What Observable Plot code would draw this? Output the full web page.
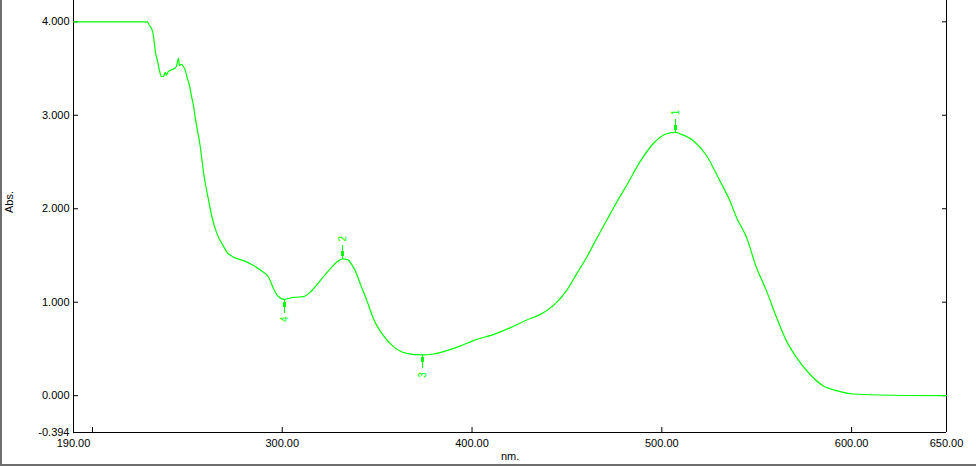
<!DOCTYPE html>
<html>
<head>
<meta charset="utf-8">
<script src="https://cdn.jsdelivr.net/npm/d3@7"></script>
<script src="https://cdn.jsdelivr.net/npm/@observablehq/plot@0.6"></script>
<style>
  html, body { margin: 0; padding: 0; background: #fff; }
  #wrap { position: relative; width: 976px; height: 466px; overflow: hidden; }
  #wrap svg { display: block; }
  #border { position: absolute; left: 0; top: 0; width: 974px; height: 464px;
            border-left: 2px solid #6e6e6e; border-bottom: 2px solid #6e6e6e; pointer-events: none; }
  .lbl { position: absolute; font-family: "Liberation Sans", Arial, sans-serif; font-size: 11px; color: #000; }
</style>
</head>
<body>
<div id="wrap">
  <div id="chart"></div>
  <div id="border"></div>
</div>
<script>
// Spectrum (wavelength nm, absorbance)
const wavelength = [190, 228.9, 230.0, 231.1, 232.1, 232.6, 233.2, 234.2, 235.3, 236.3, 237.4, 238.4, 238.9, 240.0,
  241.1, 242.1, 243.2, 244.2, 245.3, 245.8, 246.8, 247.9, 248.9, 250.0, 251.1, 252.1, 253.2, 254.2, 255.3, 256.3,
  258.9, 261.2, 263.0, 265.6, 268.3, 270.9, 274.4, 279.6, 284.9, 289.3, 292.8, 295.1, 297.5, 301.1, 305.9, 311.2,
  314.7, 320.0, 325.3, 328.4, 331.9, 334.4, 336.3, 338.4, 341.1, 344.6, 348.1, 353.3, 358.6, 365.6, 373.8, 379.6,
  386.7, 393.3, 400.7, 413.0, 420.0, 428.8, 435.8, 442.8, 449.8, 455.1, 460.4, 465.6, 470.9, 476.2, 481.4, 488.4,
  495.4, 502.5, 507.4, 509.5, 516.5, 523.5, 530.5, 535.8, 539.3, 544.6, 549.8, 555.1, 560.4, 565.6, 570.9, 577.9,
  584.9, 591.9, 600.7, 614.7, 650];
const absorbance = [4.000, 4.000, 3.961, 3.929, 3.854, 3.769, 3.672, 3.587, 3.480, 3.415, 3.415, 3.458, 3.426, 3.469,
  3.480, 3.490, 3.501, 3.522, 3.608, 3.533, 3.544, 3.522, 3.480, 3.394, 3.319, 3.212, 3.105, 2.966, 2.837, 2.730,
  2.337, 2.088, 1.909, 1.731, 1.624, 1.534, 1.481, 1.445, 1.392, 1.331, 1.267, 1.160, 1.071, 1.031, 1.052, 1.060,
  1.106, 1.231, 1.357, 1.424, 1.464, 1.456, 1.413, 1.338, 1.196, 1.017, 0.821, 0.642, 0.525, 0.453, 0.436, 0.446,
  0.482, 0.528, 0.589, 0.667, 0.725, 0.810, 0.867, 0.964, 1.124, 1.303, 1.481, 1.678, 1.874, 2.070, 2.248, 2.498,
  2.695, 2.802, 2.816, 2.802, 2.730, 2.570, 2.302, 2.088, 1.909, 1.695, 1.374, 1.124, 0.839, 0.589, 0.410, 0.232,
  0.107, 0.054, 0.018, 0.007, 0.000];

// Peak / valley picks
const pickNm = [507.4, 331.9, 373.8, 301.1];
const pickAbs = [2.816, 1.464, 0.436, 1.031];
const pickLabel = ["1", "2", "3", "4"];
const pickIsPeak = [true, true, false, false];

// Axis
const xDomain = [190, 650];
const yDomain = [-0.394, 4.228];
const xTicks = [200, 300, 400, 500, 600];
const xTickLabels = [190, 300, 400, 500, 600, 650];
const yTicks = [0, 1, 2, 3, 4];
const yTickLabels = [-0.394, 0, 1, 2, 3, 4];

const spectrum = wavelength.map((w, i) => ({nm: w, abs: absorbance[i]}));
const picks = pickNm.map((w, i) => ({nm: w, abs: pickAbs[i], label: pickLabel[i], peak: pickIsPeak[i]}));

const green = "#00ff00";
const markerShape = {
  draw(context, l) {
    context.moveTo(0, 0);
    context.lineTo(0, -l);
    context.rect(-1, -7, 2, 4);
  }
};

const chart = Plot.plot({
  width: 976,
  height: 466,
  marginLeft: 73,
  marginRight: 30,
  marginTop: 0,
  marginBottom: 34,
  style: {fontFamily: "'Liberation Sans', Arial, sans-serif", fontSize: "11px", color: "#000", background: "#fff"},
  x: {domain: xDomain},
  y: {domain: yDomain},
  marks: [
    Plot.ruleY([yDomain[0]], {stroke: "#000"}),
    Plot.ruleX([xDomain[0]], {stroke: "#000"}),
    Plot.ruleX([xDomain[1]], {stroke: "#000"}),
    Plot.axisX({ticks: xTicks, tickSize: -5, tickFormat: () => "", label: null}),
    Plot.axisX({ticks: xTickLabels, tickSize: 0, tickPadding: 7, tickFormat: d => d.toFixed(2), label: null}),
    Plot.axisY({ticks: yTicks, tickSize: -5, tickFormat: () => "", label: null}),
    Plot.axisY({anchor: "right", ticks: yTicks, tickSize: -5, tickFormat: () => "", label: null}),
    Plot.axisY({ticks: yTickLabels, tickSize: 0, tickPadding: 4, tickFormat: d => d.toFixed(3), label: null}),
    Plot.line(spectrum, {x: "nm", y: "abs", stroke: green, strokeWidth: 1.2, curve: "monotone-x"}),
    Plot.vector(picks, {x: "nm", y: "abs", length: 13, rotate: d => d.peak ? 0 : 180, anchor: "start",
      shape: markerShape, stroke: green, strokeWidth: 1, shapeRendering: "crispEdges"}),
    Plot.text(picks.filter(d => d.peak), {x: "nm", y: "abs", text: "label", dy: -20, rotate: -90, fill: green, fontSize: 10}),
    Plot.text(picks.filter(d => !d.peak), {x: "nm", y: "abs", text: "label", dy: 20, rotate: -90, fill: green, fontSize: 10})
  ]
});
document.getElementById("chart").appendChild(chart);

const wrap = document.getElementById("wrap");
const yl = document.createElement("div");
yl.className = "lbl";
yl.textContent = "Abs.";
yl.style.left = "-2px";
yl.style.top = "196px";
yl.style.transform = "rotate(-90deg)";
wrap.appendChild(yl);
const xl = document.createElement("div");
xl.className = "lbl";
xl.textContent = "nm.";
xl.style.left = "501px";
xl.style.top = "450px";
wrap.appendChild(xl);
</script>
</body>
</html>
